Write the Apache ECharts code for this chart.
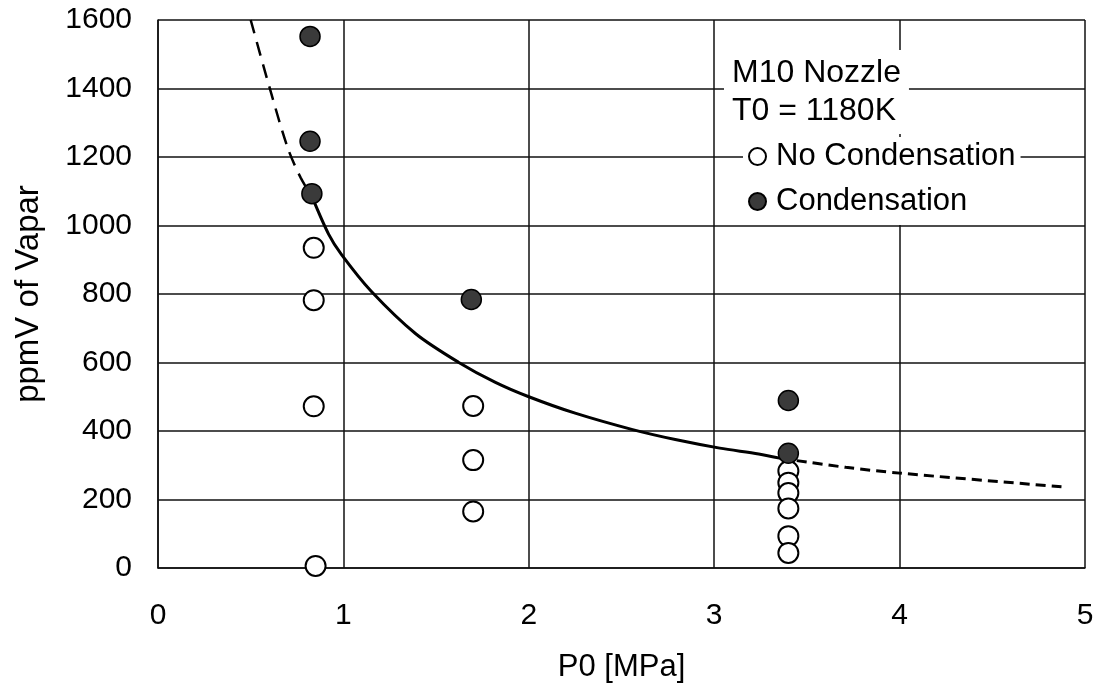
<!DOCTYPE html>
<html lang="en">

<head>
    <meta charset="UTF-8">
    <title>M10 Nozzle condensation</title>
    <style>
        * {
            margin: 0;
            padding: 0;
        }
        body {
            background: #fff;
        }
    </style>
    <script src="https://cdn.jsdelivr.net/npm/echarts@6/dist/echarts.min.js"></script>
</head>

<body>
    <div id="chart" style="width: 1100px;height: 688px;"></div>
    <script>
        // measured points [P0 MPa, ppmV]
        var noCondensation = [
            [0.84, 935], [0.84, 782], [0.84, 472], [0.85, 6],
            [1.70, 473], [1.70, 315], [1.70, 165],
            [3.40, 283], [3.40, 249], [3.40, 219], [3.40, 174], [3.40, 93], [3.40, 44]
        ]
        var condensation = [
            [0.82, 1552], [0.82, 1246], [0.83, 1093],
            [1.69, 784],
            [3.40, 489], [3.40, 335]
        ]
        // boundary curve
        var curveSolid = [
            [0.83, 1085], [0.92, 975], [0.99, 915], [1.15, 808], [1.39, 684],
            [1.62, 601], [1.82, 542], [2.00, 500], [2.25, 452], [2.56, 404],
            [2.79, 375], [3.03, 350], [3.24, 333], [3.36, 320]
        ]
        var curveDashHigh = [
            [0.50, 1600], [0.60, 1406], [0.70, 1226], [0.77, 1139], [0.83, 1085]
        ]
        var curveDashLow = [
            [3.36, 320], [3.71, 294], [4.00, 277], [4.90, 236]
        ]

        var font = "'Liberation Sans', Arial, sans-serif"
        var chart = echarts.init(document.getElementById('chart'))

        var option = {
            animation: false,
            backgroundColor: '#fff',
            textStyle: { fontFamily: font, color: '#000' },
            title: {
                text: 'M10 Nozzle\nT0 = 1180K',
                left: 724,
                top: 50,
                padding: [4, 8, 4, 8],
                backgroundColor: '#fff',
                textStyle: {
                    fontFamily: font,
                    fontWeight: 'normal',
                    fontSize: 32,
                    lineHeight: 38,
                    color: '#000'
                }
            },
            legend: {
                orient: 'vertical',
                left: 743,
                top: 137,
                padding: [4, 5, 8, 5],
                itemGap: 14,
                itemWidth: 17,
                itemHeight: 17,
                backgroundColor: '#fff',
                data: ['No Condensation', 'Condensation'],
                textStyle: {
                    fontFamily: font,
                    fontSize: 31,
                    color: '#000',
                    padding: [0, 0, 0, 5]
                }
            },
            grid: {
                left: 158,
                right: 15,
                top: 20,
                bottom: 118
            },
            xAxis: {
                type: 'value',
                min: 0,
                max: 5,
                interval: 1,
                name: 'P0 [MPa]',
                nameLocation: 'middle',
                nameGap: 84,
                nameTextStyle: { fontFamily: font, fontSize: 31, color: '#000' },
                axisLine: { show: true, lineStyle: { color: '#111', width: 1.5 } },
                axisTick: { show: false },
                axisLabel: { fontFamily: font, fontSize: 30, color: '#000', margin: 33 },
                splitLine: { show: true, lineStyle: { color: '#111', width: 1.5 } }
            },
            yAxis: {
                type: 'value',
                min: 0,
                max: 1600,
                interval: 200,
                name: 'ppmV of Vapar',
                nameLocation: 'middle',
                nameRotate: 90,
                nameGap: 113,
                nameTextStyle: { fontFamily: font, fontSize: 33, color: '#000' },
                axisLine: { show: true, lineStyle: { color: '#111', width: 1.5 } },
                axisTick: { show: false },
                axisLabel: {
                    fontFamily: font,
                    fontSize: 30,
                    color: '#000',
                    margin: 26,
                    formatter: function (v) { return String(v) }
                },
                splitLine: { show: true, lineStyle: { color: '#111', width: 1.5 } }
            },
            series: [{
                name: 'fit',
                type: 'line',
                data: curveSolid,
                smooth: 0.3,
                symbol: 'none',
                lineStyle: { color: '#000', width: 3 },
                z: 3
            }, {
                name: 'fit high',
                type: 'line',
                data: curveDashHigh,
                smooth: 0.3,
                symbol: 'none',
                lineStyle: { color: '#000', width: 2.5, type: [14, 9] },
                z: 3
            }, {
                name: 'fit low',
                type: 'line',
                data: curveDashLow,
                smooth: 0.3,
                symbol: 'none',
                lineStyle: { color: '#000', width: 3, type: [10, 6] },
                z: 3
            }, {
                name: 'No Condensation',
                type: 'scatter',
                data: noCondensation,
                symbol: 'circle',
                symbolSize: 20,
                itemStyle: { color: '#fff', borderColor: '#000', borderWidth: 2, opacity: 1 },
                z: 4
            }, {
                name: 'Condensation',
                type: 'scatter',
                data: condensation,
                symbol: 'circle',
                symbolSize: 20,
                itemStyle: { color: '#3a3a3a', borderColor: '#000', borderWidth: 1.5, opacity: 1 },
                z: 5
            }]
        }
        chart.setOption(option)
    </script>
</body>

</html>
